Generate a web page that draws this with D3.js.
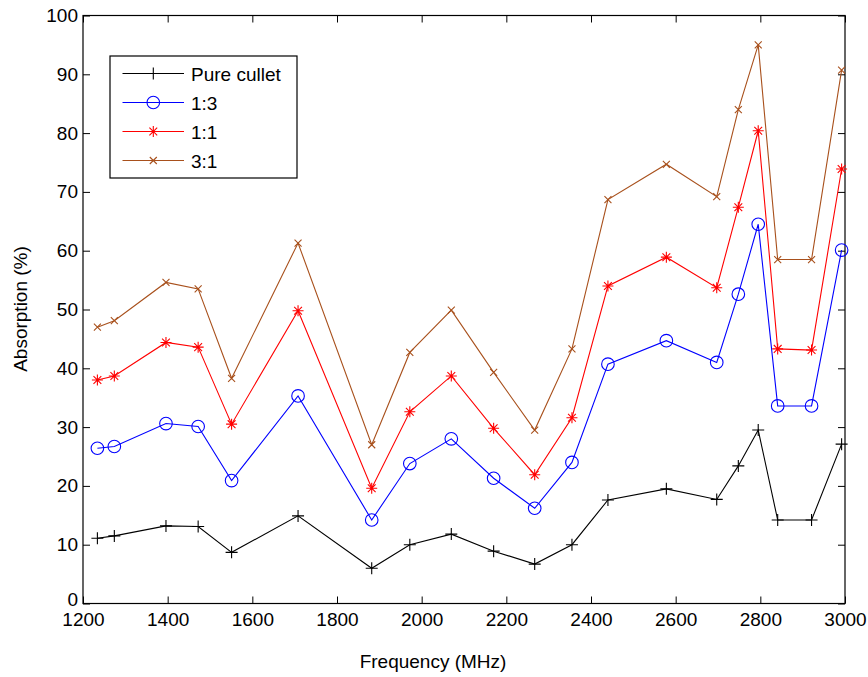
<!DOCTYPE html>
<html>
<head>
<meta charset="utf-8">
<script src="https://cdn.jsdelivr.net/npm/d3@7"></script>
<style>
    body { margin: 0; background: #fff; }
    svg { display: block; font-family: "Liberation Sans", Arial, sans-serif; }
    .tick text { font-size: 19px; fill: #000; }
    .tick line { stroke: #000; }
    .domain { stroke: none; }
</style>
</head>
<body>
<main></main>
<script>
(function() {
    'use strict';

    // frequency (MHz)
    var freq = [1234, 1274, 1396, 1472, 1551, 1708, 1882, 1972, 2070, 2170,
                2267, 2355, 2440, 2578, 2697, 2748, 2795, 2841, 2921, 2992];
    var pure_cullet = [11.1, 11.5, 13.2, 13.1, 8.7, 14.9, 6.0, 10.0, 11.8, 8.9,
                       6.7, 10.0, 17.6, 19.5, 17.7, 23.4, 29.5, 14.2, 14.2, 27.1];
    var ratio_1_3 = [26.4, 26.7, 30.6, 30.1, 20.9, 35.3, 14.2, 23.8, 28.0, 21.3,
                     16.2, 24.0, 40.7, 44.7, 41.0, 52.6, 64.5, 33.6, 33.6, 60.1];
    var ratio_1_1 = [38.0, 38.7, 44.4, 43.6, 30.5, 49.8, 19.6, 32.6, 38.7, 29.8,
                     21.9, 31.6, 54.0, 58.9, 53.7, 67.4, 80.4, 43.3, 43.1, 73.9];
    var ratio_3_1 = [47.0, 48.1, 54.6, 53.5, 38.3, 61.3, 27.0, 42.7, 49.9, 39.3,
                     29.5, 43.3, 68.7, 74.7, 69.2, 84.0, 95.0, 58.5, 58.5, 90.7];

    var series_names = ['Pure cullet', '1:3', '1:1', '3:1'];
    var series_values = [pure_cullet, ratio_1_3, ratio_1_1, ratio_3_1];
    var series_colors = ['#000000', '#0000ff', '#ff0000', '#a8501c'];
    var series_markers = ['plus', 'circle', 'star', 'cross'];

    var x_ticks = [1200, 1400, 1600, 1800, 2000, 2200, 2400, 2600, 2800, 3000];
    var y_ticks = [0, 10, 20, 30, 40, 50, 60, 70, 80, 90, 100];

    var width = 868, height = 677;
    var pad = {top: 15.5, right: 23, bottom: 73.5, left: 83};
    var pw = width - pad.left - pad.right;
    var ph = height - pad.top - pad.bottom;

    var svg = d3.select('main').append('svg')
        .attr('width', width)
        .attr('height', height);
    svg.append('rect').attr('width', width).attr('height', height).attr('fill', '#fff');

    var plot = svg.append('g')
        .attr('transform', 'translate(' + pad.left + ',' + pad.top + ')');

    var scale_x = d3.scaleLinear().domain([1200, 3000]).range([0, pw]);
    var scale_y = d3.scaleLinear().domain([0, 100]).range([ph, 0]);
    var fmt = d3.format('d');

    // inward ticks on all four sides, labels on bottom and left only
    plot.append('g')
        .attr('transform', 'translate(0,' + ph + ')')
        .call(d3.axisBottom(scale_x).tickValues(x_ticks).tickFormat(fmt)
              .tickSizeInner(-7).tickSizeOuter(0).tickPadding(9))
        .selectAll('text').attr('dy', '0.71em');
    plot.append('g')
        .call(d3.axisTop(scale_x).tickValues(x_ticks).tickSizeInner(-7).tickSizeOuter(0).tickFormat(''));
    var y_axis = plot.append('g')
        .call(d3.axisLeft(scale_y).tickValues(y_ticks).tickFormat(fmt)
              .tickSizeInner(-7).tickSizeOuter(0).tickPadding(5));
    // the "0" label sits just above the 1200 label, as in the original
    y_axis.selectAll('.tick text').filter(function(d) { return d === 0; })
        .attr('dy', '0.08em');
    plot.append('g')
        .attr('transform', 'translate(' + pw + ',0)')
        .call(d3.axisRight(scale_y).tickValues(y_ticks).tickSizeInner(-7).tickSizeOuter(0).tickFormat(''));

    plot.append('rect')
        .attr('width', pw).attr('height', ph)
        .attr('fill', 'none').attr('stroke', '#000').attr('stroke-width', 1.2);

    var line = d3.line()
        .x(function(d, i) { return scale_x(freq[i]); })
        .y(function(d) { return scale_y(d); });

    function marker_path(kind) {
        if (kind === 'plus') return 'M-6,0H6M0,-6V6';
        if (kind === 'circle') return 'M6.3,0A6.3,6.3 0 1,1 -6.3,0A6.3,6.3 0 1,1 6.3,0Z';
        if (kind === 'star') return 'M-5.5,0H5.5M0,-5.5V5.5M-3.9,-3.9L3.9,3.9M-3.9,3.9L3.9,-3.9';
        return 'M-3.5,-3.5L3.5,3.5M-3.5,3.5L3.5,-3.5';
    }

    series_values.forEach(function(vals, k) {
        var g = plot.append('g');
        g.append('path')
            .attr('d', line(vals))
            .attr('fill', 'none')
            .attr('stroke', series_colors[k])
            .attr('stroke-width', 1.1);
        g.selectAll('path.mk')
            .data(vals)
            .enter()
            .append('path')
            .attr('class', 'mk')
            .attr('transform', function(d, i) {
                return 'translate(' + scale_x(freq[i]) + ',' + scale_y(d) + ')';
            })
            .attr('d', marker_path(series_markers[k]))
            .attr('fill', 'none')
            .attr('stroke', series_colors[k])
            .attr('stroke-width', 1.1);
    });

    // legend
    var legend = svg.append('g').attr('transform', 'translate(110,56)');
    legend.append('rect')
        .attr('width', 187).attr('height', 122)
        .attr('fill', '#fff').attr('stroke', '#000').attr('stroke-width', 1.2);
    var items = legend.selectAll('g.item')
        .data(series_names)
        .enter()
        .append('g')
        .attr('class', 'item')
        .attr('transform', function(d, i) { return 'translate(0,' + (17.5 + i * 29) + ')'; });
    items.append('line')
        .attr('x1', 12.5).attr('x2', 74)
        .attr('stroke', function(d, i) { return series_colors[i]; })
        .attr('stroke-width', 1.1);
    items.append('path')
        .attr('transform', 'translate(43.3,0)')
        .attr('d', function(d, i) { return marker_path(series_markers[i]); })
        .attr('fill', 'none')
        .attr('stroke', function(d, i) { return series_colors[i]; })
        .attr('stroke-width', 1.1);
    items.append('text')
        .attr('x', 81).attr('y', 7)
        .attr('font-size', 19)
        .text(function(d) { return d; });

    // axis titles
    svg.append('text')
        .attr('x', 433).attr('y', 668)
        .attr('text-anchor', 'middle')
        .attr('font-size', 19)
        .text('Frequency (MHz)');
    svg.append('text')
        .attr('text-anchor', 'middle')
        .attr('font-size', 19)
        .attr('transform', 'translate(27,309) rotate(-90)')
        .text('Absorption (%)');
})();
</script>
</body>
</html>
